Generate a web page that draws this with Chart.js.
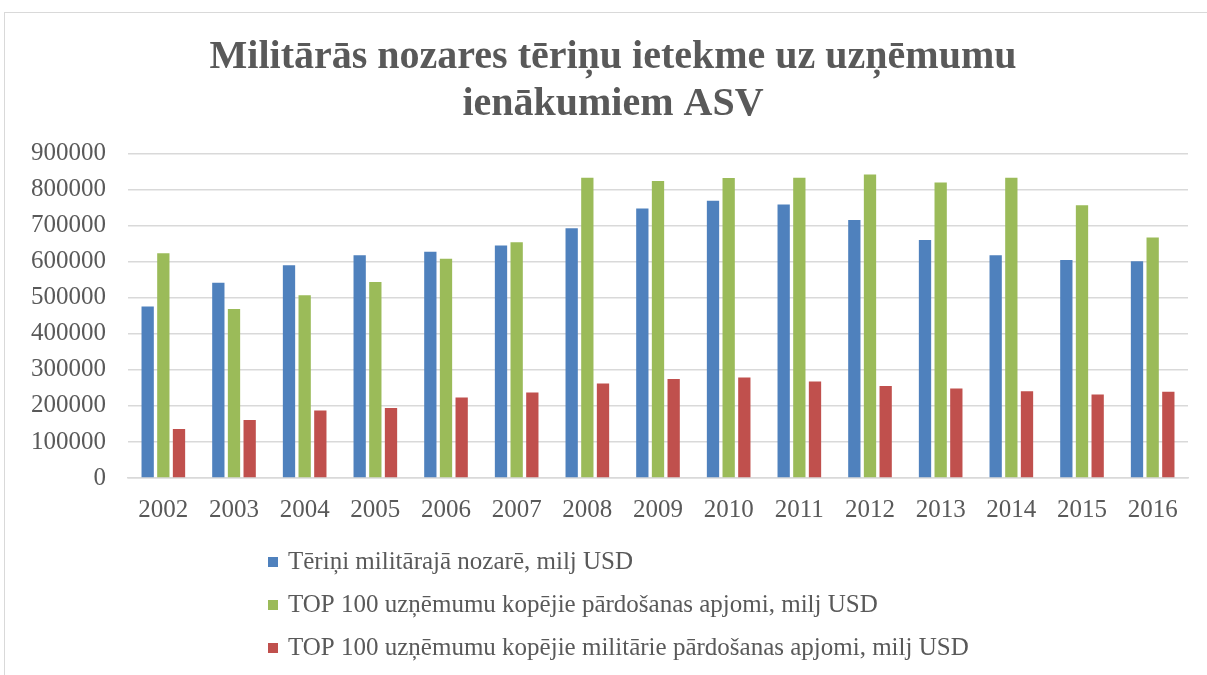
<!DOCTYPE html>
<html>
<head>
<meta charset="utf-8">
<script src="https://cdn.jsdelivr.net/npm/chart.js@4/dist/chart.umd.min.js"></script>
<style>
html,body{margin:0;padding:0;background:#fff;overflow:hidden;}
#wrap{position:relative;width:1207px;height:675px;}
#frame{position:absolute;left:4px;top:12px;width:1300px;height:800px;border:1px solid #d9d9d9;pointer-events:none;}
canvas{position:absolute;left:0;top:0;}
</style>
</head>
<body>
<div id="wrap">
<canvas id="c" width="1207" height="675"></canvas>
<div id="frame"></div>
</div>
<script>
const years = ['2002','2003','2004','2005','2006','2007','2008','2009','2010','2011','2012','2013','2014','2015','2016'];
const militarySpending = [476000,542000,590000,618000,628000,645000,693000,748000,769000,759000,716000,660000,618000,605000,601000];
const top100Sales = [623500,469000,507000,544000,608000,654000,833000,824000,832000,833000,842000,820000,833000,757000,667000];
const top100MilitarySales = [136000,161000,187000,194000,223000,237000,262000,275000,279000,268000,255000,248000,241000,232000,239000];
const seriesNames = [
  'Tēriņi militārajā nozarē, milj USD',
  'TOP 100 uzņēmumu kopējie pārdošanas apjomi, milj USD',
  'TOP 100 uzņēmumu kopējie militārie pārdošanas apjomi, milj USD'
];
const titleLines = ['Militārās nozares tēriņu ietekme uz uzņēmumu', 'ienākumiem ASV'];
const yTicks = [0,100000,200000,300000,400000,500000,600000,700000,800000,900000];

const colors = ['#4F81BD','#9BBB59','#C0504D'];
const textColor = '#595959';
const serif = '"Liberation Serif", "DejaVu Serif", serif';

const legendPlugin = {
  id: 'vlegend',
  afterLayout(chart) {
    if (chart.titleBlock) chart.titleBlock.left += 38;
  },
  afterDraw(chart) {
    const ctx = chart.ctx;
    ctx.save();
    ctx.font = '25px ' + serif;
    ctx.textBaseline = 'middle';
    ctx.textAlign = 'left';
    const ys = [562, 605, 648];
    chart.data.datasets.forEach((ds, i) => {
      ctx.fillStyle = ds.backgroundColor;
      ctx.fillRect(268, ys[i] - 5, 10, 10);
      ctx.fillStyle = textColor;
      ctx.fillText(ds.label, 288, ys[i]);
    });
    ctx.restore();
  }
};

new Chart(document.getElementById('c'), {
  type: 'bar',
  data: {
    labels: years,
    datasets: [
      {label: seriesNames[0], data: militarySpending, backgroundColor: colors[0]},
      {label: seriesNames[1], data: top100Sales, backgroundColor: colors[1]},
      {label: seriesNames[2], data: top100MilitarySales, backgroundColor: colors[2]}
    ]
  },
  options: {
    responsive: false,
    animation: false,
    devicePixelRatio: 1,
    layout: {padding: {left: 0, right: 19, top: 0, bottom: 0}},
    datasets: {bar: {barPercentage: 0.785, categoryPercentage: 0.665}},
    plugins: {
      legend: {display: false},
      tooltip: {enabled: false},
      title: {
        display: true,
        text: titleLines,
        color: textColor,
        font: {family: serif, size: 40, weight: 'bold', lineHeight: 1.17},
        padding: {top: 34, bottom: 26}
      }
    },
    scales: {
      x: {
        grid: {display: false, drawTicks: false},
        border: {display: true, color: '#d9d9d9', width: 1.5},
        ticks: {color: textColor, font: {family: serif, size: 25}, padding: 17, maxRotation: 0},
        afterFit(s) { s.height = 197; }
      },
      y: {
        min: 0, max: 900000,
        afterBuildTicks(s) { s.ticks = yTicks.map(v => ({value: v})); },
        grid: {color: '#d9d9d9', lineWidth: 1.5, drawTicks: false},
        border: {display: false},
        ticks: {color: textColor, font: {family: serif, size: 25}, padding: 22, callback: v => String(v)},
        afterFit(s) { s.width = 128; }
      }
    }
  },
  plugins: [legendPlugin]
});
</script>
</body>
</html>
